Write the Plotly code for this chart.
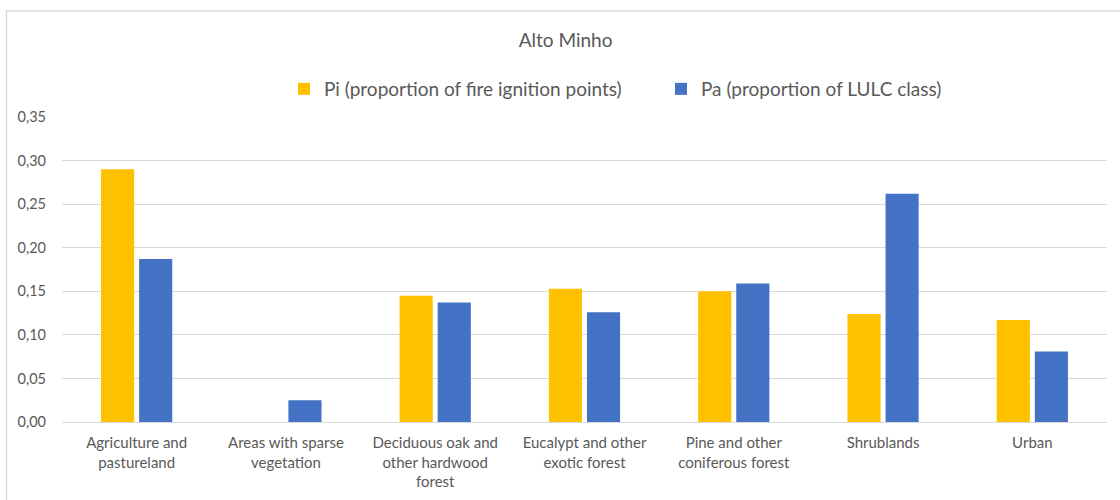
import plotly.graph_objects as go

categories = [
    "Agriculture and<br>pastureland",
    "Areas with sparse<br>vegetation",
    "Deciduous oak and<br>other hardwood<br>forest",
    "Eucalypt and other<br>exotic forest",
    "Pine and other<br>coniferous forest",
    "Shrublands",
    "Urban",
]
pi_values = [0.290, 0.0, 0.145, 0.153, 0.150, 0.124, 0.117]
pa_values = [0.187, 0.025, 0.137, 0.126, 0.159, 0.262, 0.081]
series_names = ["Pi (proportion of fire ignition points)", "Pa (proportion of LULC class)"]
y_ticks = [0.0, 0.05, 0.10, 0.15, 0.20, 0.25, 0.30, 0.35]

YELLOW = "#FFC000"
BLUE = "#4472C4"
TXT = "#595959"
FONT = "Lato, Liberation Sans, sans-serif"

fig = go.Figure()
fig.add_trace(go.Bar(name=series_names[0], x=categories, y=pi_values,
                     marker=dict(color=YELLOW, line=dict(width=0))))
fig.add_trace(go.Bar(name=series_names[1], x=categories, y=pa_values,
                     marker=dict(color=BLUE, line=dict(width=0))))

L, R, T, B = 62, 13, 117, 78
W, H = 1120, 500
pw = W - L - R
ph = H - T - B

def px_x(p):
    return (p - L) / pw

def px_y(p):
    return (H - B - p) / ph

fig.update_layout(
    width=W, height=H,
    margin=dict(l=L, r=R, t=T, b=B, pad=0, autoexpand=False),
    paper_bgcolor="white", plot_bgcolor="white",
    separators=",.",
    font=dict(family=FONT, color=TXT, size=14),
    barmode="group", bargap=0.49, bargroupgap=0.13,
    title=dict(text="Alto Minho", x=0.505, xanchor="center", y=1 - 40 / H, yanchor="middle",
               font=dict(size=19, color=TXT, family=FONT)),
    legend=dict(orientation="h", x=px_x(284), xanchor="left", y=px_y(89), yanchor="middle",
                font=dict(size=19, color=TXT, family=FONT), entrywidth=332, entrywidthmode="pixels",
                itemwidth=30, bgcolor="rgba(0,0,0,0)", traceorder="normal"),
    xaxis=dict(showgrid=False, showline=True, linecolor="#d9d9d9", linewidth=1, ticks="",
               tickfont=dict(size=15, color=TXT), ticklabelstandoff=7),
    yaxis=dict(range=[0, 0.35], tickvals=y_ticks, tickformat=".2f", showgrid=True,
               gridcolor="#d9d9d9", gridwidth=1, zeroline=False, showline=False, ticks="",
               ticklabelstandoff=15, tickfont=dict(size=14.5, color=TXT)),
    showlegend=True,
)

# outer chart border (light gray)
fig.add_shape(type="rect", xref="paper", yref="paper",
              x0=px_x(6.5), x1=px_x(1125), y0=px_y(505), y1=px_y(11),
              line=dict(color="#d9d9d9", width=1.5), fillcolor="rgba(0,0,0,0)", layer="below")

fig.write_html("out.html")
